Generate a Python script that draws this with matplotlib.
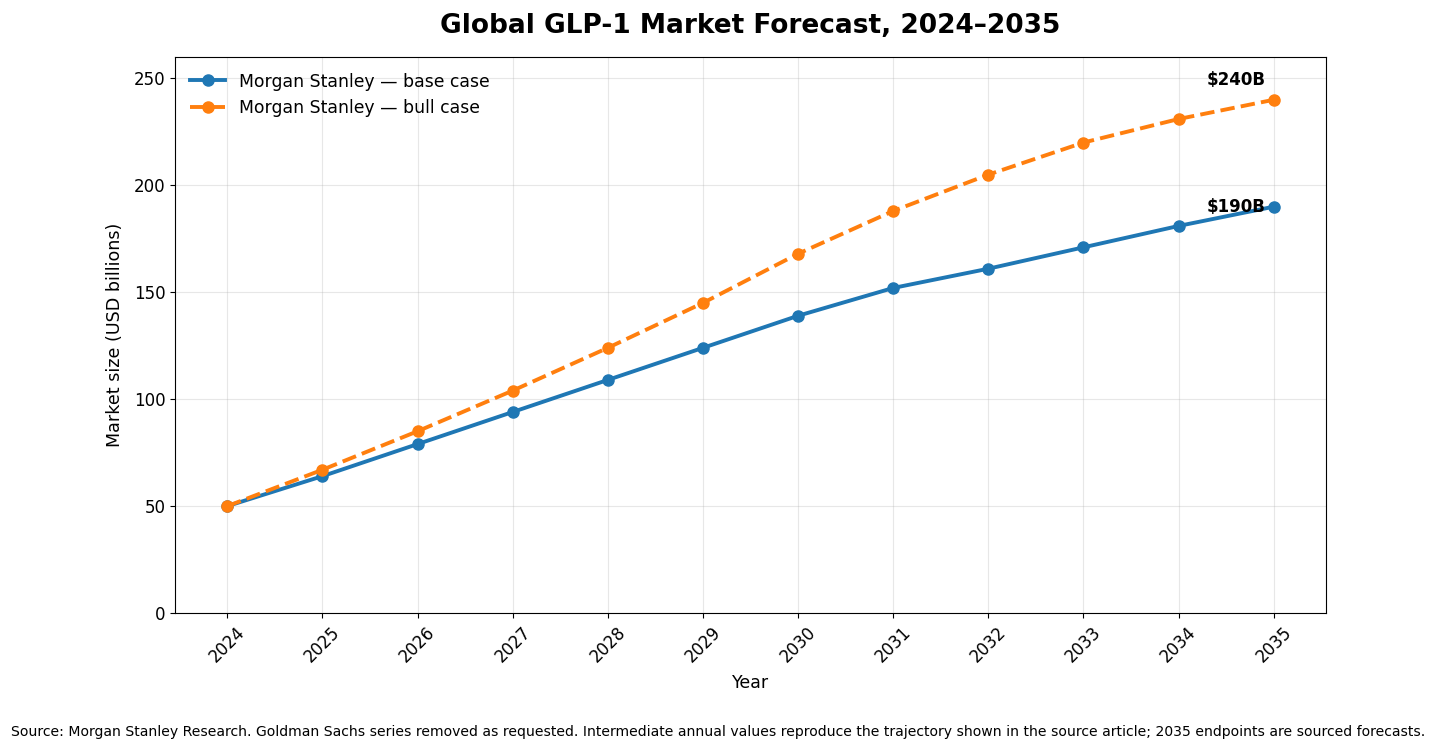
import matplotlib
matplotlib.use("Agg")
import matplotlib.pyplot as plt

years = [2024, 2025, 2026, 2027, 2028, 2029, 2030, 2031, 2032, 2033, 2034, 2035]
base_case = [50, 64, 79, 94, 109, 124, 139, 152, 161, 171, 181, 190]
bull_case = [50, 67, 85, 104, 124, 145, 168, 188, 205, 220, 231, 240]
base_label = "Morgan Stanley — base case"
bull_label = "Morgan Stanley — bull case"
title = "Global GLP-1 Market Forecast, 2024–2035"
footnote = ("Source: Morgan Stanley Research. Goldman Sachs series removed as requested. "
            "Intermediate annual values reproduce the trajectory shown in the source article; "
            "2035 endpoints are sourced forecasts.")

fig = plt.figure(figsize=(14.32, 7.52), dpi=100)
ax = fig.add_axes([0.1222, 0.1848, 0.8038, 0.7394])

ax.plot(years, base_case, color="#1f77b4", linewidth=2.8, marker="o", markersize=8,
        label=base_label)
ax.plot(years, bull_case, color="#ff7f0e", linewidth=2.8, linestyle="--", marker="o",
        markersize=8, label=bull_label)

ax.annotate(f"${bull_case[-1]}B", (years[-1], bull_case[-1]), xytext=(-6, 14),
            textcoords="offset points", ha="right", va="center", fontsize=12,
            fontweight="bold")
ax.annotate(f"${base_case[-1]}B", (years[-1], base_case[-1]), xytext=(-6, 0),
            textcoords="offset points", ha="right", va="center", fontsize=12,
            fontweight="bold")

ax.set_ylim(0, 260)
ax.set_xticks(years)
ax.set_xticklabels([str(y) for y in years], rotation=45, fontsize=12)
ax.tick_params(axis="y", labelsize=12)
ax.set_yticks([0, 50, 100, 150, 200, 250])
ax.grid(True, alpha=0.3)
ax.set_xlabel("Year", fontsize=12.5, labelpad=6)
ax.set_ylabel("Market size (USD billions)", fontsize=12.6, labelpad=7)
ax.legend(loc="upper left", frameon=False, fontsize=12.4)

ax.set_title(title, fontsize=19, fontweight="bold", pad=17)
fig.text(0.008, 0.027, footnote, fontsize=10.1, ha="left", va="center")

fig.savefig("out.png", dpi=100)
